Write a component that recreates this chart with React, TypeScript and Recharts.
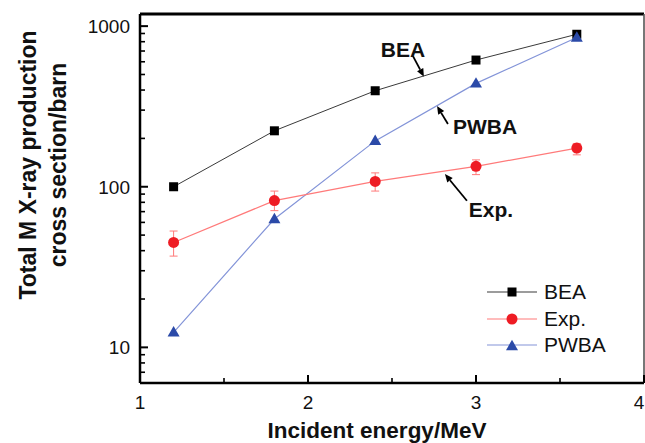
import React from "react";
import {
  LineChart, Line, XAxis, YAxis, ErrorBar, Legend, ReferenceLine, ReferenceDot
} from "recharts";

// Incident energy (MeV) and cross sections (barn)
const energy = [1.2, 1.8, 2.4, 3.0, 3.6];
const bea = [100, 223, 396, 615, 890];
const expValues = [45, 82, 108, 134, 174];
const expErrDown = [8, 11, 14, 15, 16];
const expErrUp = [8, 12, 14, 13, 12];
const pwba = [12.4, 63, 193, 440, 850];

const xTicks = [1, 1.5, 2, 2.5, 3, 3.5, 4];
const xMajor = [1, 2, 3, 4];
const yTicks = [7, 8, 9, 10, 20, 30, 40, 50, 60, 70, 80, 90, 100, 200, 300, 400, 500, 600, 700, 800, 900, 1000];
const yMajor = [10, 100, 1000];

// annotation text + arrows (tail -> head), in data units
const notes = [
  { text: "BEA", x: 2.565, y: 710, tail: [2.625, 651], head: [2.69, 484] },
  { text: "PWBA", x: 3.054, y: 236, tail: [2.833, 246], head: [2.768, 318] },
  { text: "Exp.", x: 3.089, y: 72, tail: [2.946, 81.8], head: [2.815, 120] },
];

const data = energy.map((e, i) => ({
  energy: e,
  bea: bea[i],
  exp: expValues[i],
  expErr: [expErrDown[i], expErrUp[i]],
  pwba: pwba[i],
}));

const FONT = '"Liberation Sans", Arial, Helvetica, sans-serif';

const C_BEA = "#000000";
const C_BEA_LINE = "#3a3a3a";
const C_EXP = "#ee1c24";
const C_EXP_LINE = "#ff7a7a";
const C_PWBA = "#2b4aa8";
const C_PWBA_LINE = "#8394d8";

function Square({ cx, cy, size = 9 }: any) {
  return <rect x={cx - size / 2} y={cy - size / 2} width={size} height={size} fill={C_BEA} />;
}
function Circle({ cx, cy, r = 5.5 }: any) {
  return <circle cx={cx} cy={cy} r={r} fill={C_EXP} />;
}
function Triangle({ cx, cy, s = 12 }: any) {
  const h = s * 0.87;
  return (
    <polygon
      points={`${cx},${cy - h * 0.6} ${cx - s / 2},${cy + h * 0.4} ${cx + s / 2},${cy + h * 0.4}`}
      fill={C_PWBA}
    />
  );
}

// y ticks point inward (right of the axis)
const YTick = (props: any) => {
  const { x, y, payload } = props;
  const v = payload.value;
  const major = yMajor.includes(v);
  const ax = x + 10;
  return (
    <g>
      <line x1={ax} x2={ax + (major ? 8 : 5)} y1={y} y2={y} stroke="black" strokeWidth={major ? 2 : 1.6} />
      {major && (
        <text x={x} y={y} dy={7} textAnchor="end" fontFamily={FONT} fontSize={19} fill="#111">
          {v}
        </text>
      )}
    </g>
  );
};

// x ticks point inward (up)
const XTick = (props: any) => {
  const { x, y, payload } = props;
  const v = payload.value;
  const major = xMajor.includes(v);
  return (
    <g>
      <line x1={x} x2={x} y1={y} y2={y - (major ? 8 : 5)} stroke="black" strokeWidth={major ? 2 : 1.6} />
      {major && (
        <text x={v === 4 ? x - 5 : x} y={y} dy={26} textAnchor="middle" fontFamily={FONT} fontSize={19} fill="#111">
          {v}
        </text>
      )}
    </g>
  );
};

const YLabel = (props: any) => {
  const vb = props.viewBox || { x: 0, y: 14, width: 140, height: 369 };
  const cy = vb.y + 151;
  return (
    <g fontFamily={FONT} fontWeight="bold" fontSize={23} fill="#111" textAnchor="middle">
      <text transform={`translate(${vb.x + 36},${cy}) rotate(-90)`}>Total M X-ray production</text>
      <text transform={`translate(${vb.x + 66},${cy}) rotate(-90)`}>cross section/barn</text>
    </g>
  );
};

const XLabel = (props: any) => {
  const vb = props.viewBox || { x: 140, y: 383, width: 504, height: 60 };
  return (
    <text x={vb.x + 237} y={vb.y + 55} textAnchor="middle" fontFamily={FONT} fontWeight="bold" fontSize={22.5} fill="#111">
      Incident energy/MeV
    </text>
  );
};

const Arrow = (props: any) => {
  const { x1, y1, x2, y2 } = props;
  const dx = x2 - x1;
  const dy = y2 - y1;
  const len = Math.sqrt(dx * dx + dy * dy) || 1;
  const ux = dx / len;
  const uy = dy / len;
  const hl = 8;
  const hw = 3.5;
  const bx = x2 - ux * hl;
  const by = y2 - uy * hl;
  return (
    <g>
      <line x1={x1} y1={y1} x2={bx} y2={by} stroke="black" strokeWidth={1.8} />
      <polygon
        points={`${x2},${y2} ${bx - uy * hw},${by + ux * hw} ${bx + uy * hw},${by - ux * hw}`}
        fill="black"
      />
    </g>
  );
};

const legendItems = [
  { name: "BEA", line: C_BEA_LINE, mark: <Square cx={25} cy={10} size={9} /> },
  { name: "Exp.", line: C_EXP_LINE, mark: <Circle cx={25} cy={10} r={5.5} /> },
  { name: "PWBA", line: C_PWBA_LINE, mark: <Triangle cx={25} cy={11} s={12} /> },
];

const renderLegend = () => (
  <div style={{ fontFamily: FONT, fontSize: 21, color: "#111" }}>
    {legendItems.map((it) => (
      <div key={it.name} style={{ display: "flex", alignItems: "center", height: 26.5 }}>
        <svg width={50} height={20} style={{ marginRight: 7 }}>
          <line x1={0} x2={50} y1={10} y2={10} stroke={it.line} strokeWidth={1.2} />
          {it.mark}
        </svg>
        <span>{it.name}</span>
      </div>
    ))}
  </div>
);

export default function App() {
  return (
    <div style={{ position: "absolute", left: 0, top: 0 }}>
      <LineChart width={645} height={443} data={data} margin={{ top: 14, right: 1, left: 0, bottom: 0 }}>
        <XAxis
          dataKey="energy"
          type="number"
          domain={[1, 4]}
          ticks={xTicks}
          interval={0}
          allowDataOverflow
          height={60}
          tickSize={0}
          tickMargin={0}
          tickLine={false}
          tick={<XTick />}
          axisLine={{ stroke: "black", strokeWidth: 2.5 }}
          label={<XLabel />}
        />
        <YAxis
          scale="log"
          type="number"
          domain={[6, 1190]}
          ticks={yTicks}
          interval={0}
          allowDataOverflow
          width={140}
          tickSize={0}
          tickMargin={10}
          tickLine={false}
          tick={<YTick />}
          axisLine={{ stroke: "black", strokeWidth: 2.5 }}
          label={<YLabel />}
        />
        <Legend
          layout="vertical"
          align="center"
          verticalAlign="middle"
          content={renderLegend}
          wrapperStyle={{ left: 487, top: 279, width: 160 }}
        />
        {/* top and right frame */}
        <ReferenceLine y={1190} stroke="black" strokeWidth={3} />
        <ReferenceLine x={4} stroke="#555555" strokeWidth={1.6} />
        {notes.map((n) => (
          <ReferenceLine
            key={"a" + n.text}
            segment={[{ x: n.tail[0], y: n.tail[1] }, { x: n.head[0], y: n.head[1] }]}
            shape={<Arrow />}
          />
        ))}
        {notes.map((n) => (
          <ReferenceDot
            key={"t" + n.text}
            x={n.x}
            y={n.y}
            r={0}
            shape={(p: any) => (
              <text x={p.cx} y={p.cy} dy={7} textAnchor="middle" fontFamily={FONT} fontWeight="bold" fontSize={21} fill="#111">
                {n.text}
              </text>
            )}
          />
        ))}
        <Line
          dataKey="bea"
          name="BEA"
          stroke={C_BEA_LINE}
          strokeWidth={1}
          isAnimationActive={false}
          dot={(p: any) => <Square key={"b" + p.index} cx={p.cx} cy={p.cy} />}
        />
        <Line
          dataKey="pwba"
          name="PWBA"
          stroke={C_PWBA_LINE}
          strokeWidth={1.2}
          isAnimationActive={false}
          dot={(p: any) => <Triangle key={"p" + p.index} cx={p.cx} cy={p.cy} />}
        />
        <Line
          dataKey="exp"
          name="Exp."
          stroke={C_EXP_LINE}
          strokeWidth={1.2}
          isAnimationActive={false}
          dot={(p: any) => <Circle key={"e" + p.index} cx={p.cx} cy={p.cy} />}
        >
          <ErrorBar dataKey="expErr" direction="y" width={4} stroke={C_EXP_LINE} strokeWidth={1} isAnimationActive={false} />
        </Line>
      </LineChart>
    </div>
  );
}
